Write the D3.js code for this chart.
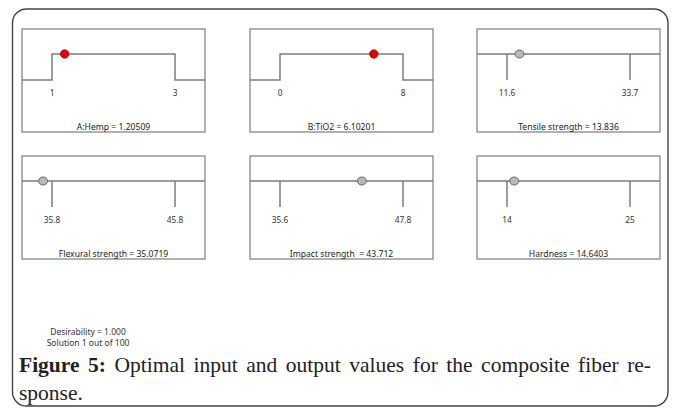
<!DOCTYPE html>
<html>
<head>
<meta charset="utf-8">
<script src="https://cdn.jsdelivr.net/npm/d3@7"></script>
<style>
  html, body { margin: 0; padding: 0; background: #fff; }
  svg { display: block; }
  text { white-space: pre; }
</style>
</head>
<body>
<svg id="chart" width="673" height="408"></svg>
<script>
// ---- data ----
const names = ["A:Hemp", "B:TiO2", "Tensile strength", "Flexural strength", "Impact strength ", "Hardness"];
const kinds = ["factor", "factor", "response", "response", "response", "response"];
const lows = [1, 0, 11.6, 35.8, 35.6, 14];
const highs = [3, 8, 33.7, 45.8, 47.8, 25];
const lowLabels = ["1", "0", "11.6", "35.8", "35.6", "14"];
const highLabels = ["3", "8", "33.7", "45.8", "47.8", "25"];
const values = [1.20509, 6.10201, 13.836, 35.0719, 43.712, 14.6403];
const valueLabels = ["1.20509", "6.10201", "13.836", "35.0719", "43.712", "14.6403"];
const desirabilityLines = ["Desirability = 1.000", "Solution 1 out of 100"];
const captionBold = "Figure 5:";
const captionLine1 = " Optimal input and output values for the composite fiber re-";
const captionLine2 = "sponse.";

// ---- layout ----
const svg = d3.select("#chart");
const colX = [22, 250, 477];
const rowY = [29, 156];
const pw = 183, ph = 103;

// outer rounded frame
const fx0 = 12.5, fy0 = 9, fx1 = 668, fy1 = 406, r = 14;
svg.append("rect")
  .attr("x", fx0).attr("y", fy0)
  .attr("width", fx1 - fx0).attr("height", fy1 - fy0)
  .attr("rx", r).attr("ry", r)
  .attr("fill", "none").attr("stroke", "#444").attr("stroke-width", 1.4);

const lineCol = "#7d7d7d";
const textCol = "#333";
const panelFont = "'Noto Sans', 'Open Sans', sans-serif";

names.forEach((name, i) => {
  const x0 = colX[i % 3], y0 = rowY[Math.floor(i / 3)];
  const g = svg.append("g");
  const x = d3.scaleLinear().domain([lows[i], highs[i]]).range([x0 + 30, x0 + 153]);
  const yTop = y0 + 25, yBase = y0 + 51;

  g.append("rect")
    .attr("x", x0).attr("y", y0).attr("width", pw).attr("height", ph)
    .attr("fill", "#fff").attr("stroke", lineCol).attr("stroke-width", 1.2);

  if (kinds[i] === "factor") {
    const pts = [
      [x0, yBase], [x(lows[i]), yBase], [x(lows[i]), yTop],
      [x(highs[i]), yTop], [x(highs[i]), yBase], [x0 + pw, yBase]
    ];
    g.append("path").attr("d", d3.line()(pts))
      .attr("fill", "none").attr("stroke", lineCol).attr("stroke-width", 1.5);
  } else {
    g.append("line").attr("x1", x0).attr("x2", x0 + pw).attr("y1", yTop).attr("y2", yTop)
      .attr("stroke", lineCol).attr("stroke-width", 1.5);
    [lows[i], highs[i]].forEach(v => {
      g.append("line").attr("x1", x(v)).attr("x2", x(v)).attr("y1", yTop).attr("y2", yBase)
        .attr("stroke", lineCol).attr("stroke-width", 1.5);
    });
  }

  // tick labels
  [[lows[i], lowLabels[i]], [highs[i], highLabels[i]]].forEach(([v, t]) => {
    g.append("text").attr("x", x(v)).attr("y", y0 + 67)
      .attr("text-anchor", "middle").attr("font-family", panelFont)
      .attr("font-size", 8.3).attr("fill", textCol).text(t);
  });

  // value marker
  if (kinds[i] === "factor") {
    g.append("circle").attr("cx", x(values[i])).attr("cy", yTop).attr("r", 4.2)
      .attr("fill", "#e00000").attr("stroke", "#a00000").attr("stroke-width", 0.8);
  } else {
    g.append("ellipse").attr("cx", x(values[i])).attr("cy", yTop).attr("rx", 4.5).attr("ry", 4)
      .attr("fill", "#b8b8b8").attr("stroke", "#666").attr("stroke-width", 1);
  }

  // bottom label
  g.append("text").attr("x", x0 + pw / 2).attr("y", y0 + 101)
    .attr("text-anchor", "middle").attr("font-family", panelFont)
    .attr("font-size", 8.6).attr("fill", "#222").text(name + " = " + valueLabels[i]);
});

// desirability
desirabilityLines.forEach((t, k) => {
  svg.append("text").attr("x", 88).attr("y", 335 + k * 10.5)
    .attr("text-anchor", "middle").attr("font-family", panelFont)
    .attr("font-size", 8.5).attr("fill", "#333").text(t);
});

// caption (justified first line via word-spacing)
const capFont = "'Liberation Serif', serif", capSize = 21.5;
const cap = svg.append("text").attr("x", 19).attr("y", 372)
  .attr("font-family", capFont).attr("font-size", capSize).attr("fill", "#222");
cap.append("tspan").attr("font-weight", "bold").text(captionBold);
cap.append("tspan").text(captionLine1);
const natural = cap.node().getComputedTextLength();
const nSpaces = (captionBold + captionLine1).split(" ").length - 1;
cap.attr("word-spacing", Math.max(0, (632 - natural) / nSpaces));
svg.append("text").attr("x", 19).attr("y", 400)
  .attr("font-family", capFont).attr("font-size", capSize).attr("fill", "#222")
  .text(captionLine2);
</script>
</body>
</html>
